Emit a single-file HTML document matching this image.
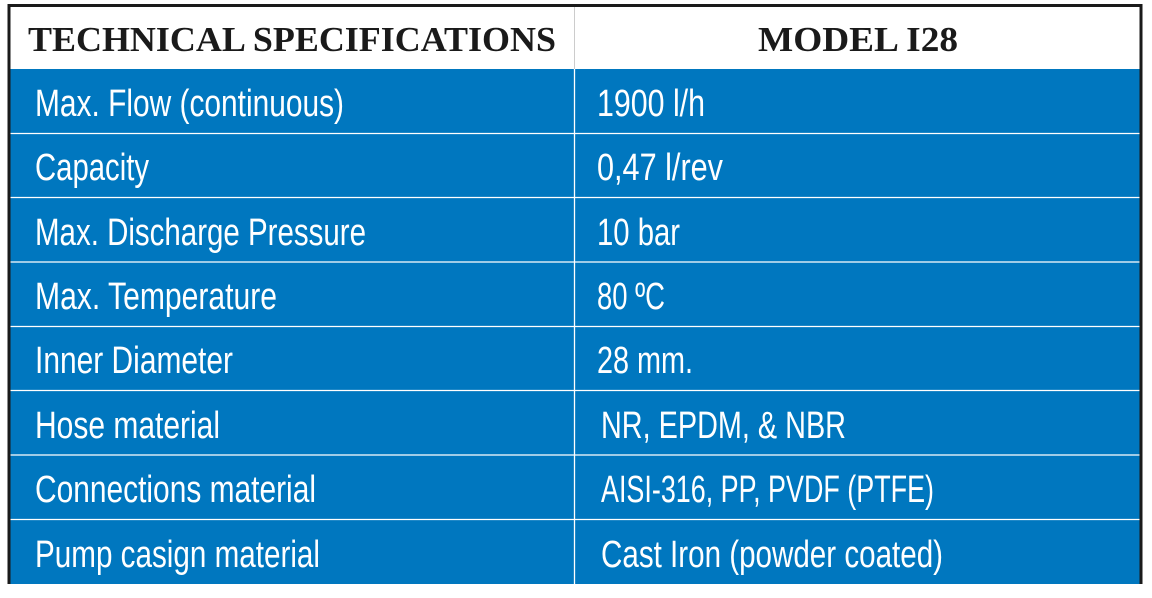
<!DOCTYPE html>
<html><head><meta charset="utf-8"><style>
html,body{margin:0;padding:0;background:#fff;width:1152px;height:598px;overflow:hidden}
svg{display:block}
.t{font-family:"Liberation Sans",sans-serif;font-size:38px;fill:#fff}
.h{font-family:"Liberation Serif",serif;font-weight:bold;font-size:35px;fill:#1a1a1a}
</style></head><body>
<svg width="1152" height="598" viewBox="0 0 1152 598">
<rect x="0" y="0" width="1152" height="598" fill="#fff"/>
<rect x="8" y="69" width="1134" height="515" fill="#0077bf"/>
<g stroke="#fff" stroke-width="1.3">
<line x1="8" y1="133.5" x2="1140" y2="133.5"/>
<line x1="8" y1="197.5" x2="1140" y2="197.5"/>
<line x1="8" y1="262" x2="1140" y2="262"/>
<line x1="8" y1="326.5" x2="1140" y2="326.5"/>
<line x1="8" y1="390.5" x2="1140" y2="390.5"/>
<line x1="8" y1="455" x2="1140" y2="455"/>
<line x1="8" y1="519.5" x2="1140" y2="519.5"/>
<line x1="574.5" y1="69" x2="574.5" y2="584"/>
</g>
<line x1="574.5" y1="6" x2="574.5" y2="69" stroke="#ccc" stroke-width="1"/>
<path d="M9 584 V5.5 H1141 V584" fill="none" stroke="#1a1a1a" stroke-width="3"/>
<text class="h" x="28" y="51" textLength="528" lengthAdjust="spacingAndGlyphs">TECHNICAL SPECIFICATIONS</text>
<text class="h" x="758" y="51" textLength="200" lengthAdjust="spacingAndGlyphs">MODEL I28</text>
<g class="t" lengthAdjust="spacingAndGlyphs">
<text x="35" y="116" textLength="309" lengthAdjust="spacingAndGlyphs">Max. Flow (continuous)</text>
<text x="35" y="180" textLength="114" lengthAdjust="spacingAndGlyphs">Capacity</text>
<text x="35" y="245" textLength="331" lengthAdjust="spacingAndGlyphs">Max. Discharge Pressure</text>
<text x="35" y="309" textLength="242" lengthAdjust="spacingAndGlyphs">Max. Temperature</text>
<text x="35" y="373" textLength="198" lengthAdjust="spacingAndGlyphs">Inner Diameter</text>
<text x="35" y="438" textLength="185" lengthAdjust="spacingAndGlyphs">Hose material</text>
<text x="35" y="502" textLength="281" lengthAdjust="spacingAndGlyphs">Connections material</text>
<text x="35" y="567" textLength="285" lengthAdjust="spacingAndGlyphs">Pump casign material</text>
<text x="597" y="116" textLength="108" lengthAdjust="spacingAndGlyphs">1900 l/h</text>
<text x="597" y="180" textLength="126" lengthAdjust="spacingAndGlyphs">0,47 l/rev</text>
<text x="597" y="245" textLength="83" lengthAdjust="spacingAndGlyphs">10 bar</text>
<text x="597" y="309" textLength="68" lengthAdjust="spacingAndGlyphs">80 ºC</text>
<text x="597" y="373" textLength="96" lengthAdjust="spacingAndGlyphs">28 mm.</text>
<text x="601" y="438" textLength="245" lengthAdjust="spacingAndGlyphs">NR, EPDM, &amp; NBR</text>
<text x="601" y="502" textLength="333" lengthAdjust="spacingAndGlyphs">AISI-316, PP, PVDF (PTFE)</text>
<text x="601" y="567" textLength="342" lengthAdjust="spacingAndGlyphs">Cast Iron (powder coated)</text>
</g>
</svg>
</body></html>
